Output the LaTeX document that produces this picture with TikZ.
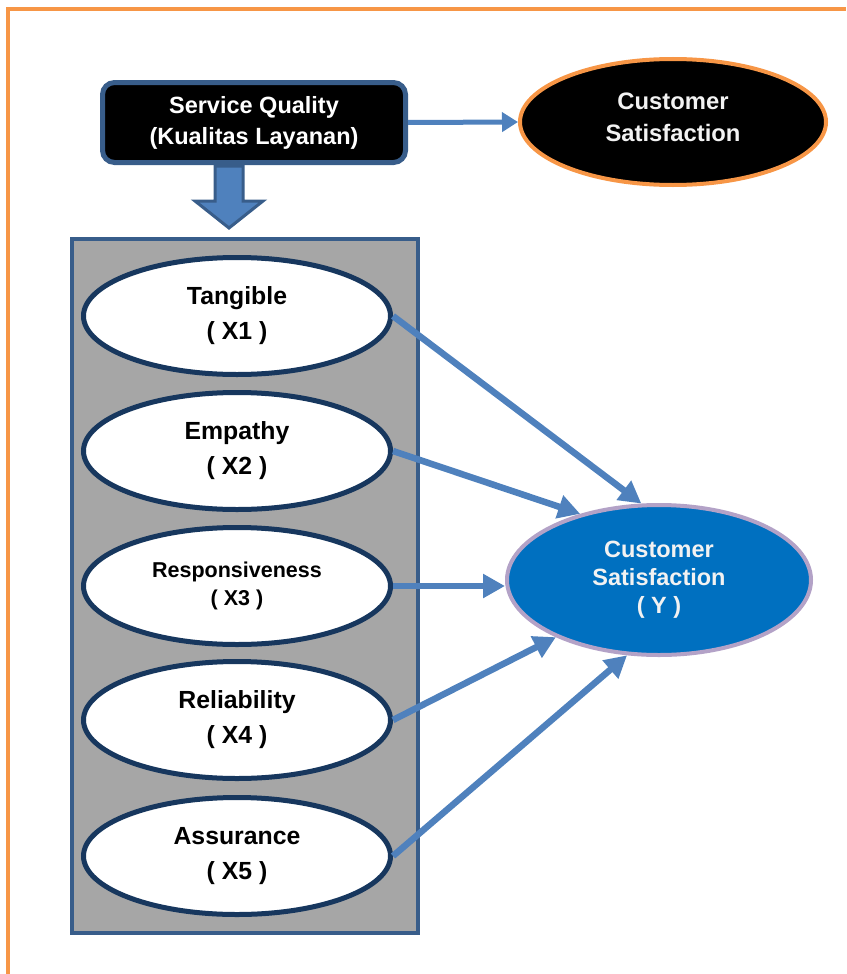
\documentclass[tikz,border=0pt]{standalone}
\usepackage{fontspec}
\setmainfont{Liberation Sans}
\usetikzlibrary{arrows.meta,shapes.geometric}
\definecolor{framec}{HTML}{F79646}
\definecolor{boxborder}{HTML}{385D8A}
\definecolor{navy}{HTML}{17375E}
\definecolor{arrowblue}{HTML}{4F81BD}
\definecolor{panelgrey}{HTML}{A6A6A6}
\definecolor{yfill}{HTML}{0070C0}
\definecolor{yborder}{HTML}{B3A2C7}
\definecolor{ytext}{HTML}{F2F2F2}
\tikzset{
  dimnode/.style={ellipse, draw=navy, line width=5pt, fill=white, inner sep=0pt,
    minimum width=307pt, minimum height=117pt, align=center,
    font=\bfseries\fontsize{24.8}{35}\selectfont},
  linkarrow/.style={draw=arrowblue, line width=6.5pt,
    -{Triangle[length=22pt,width=23pt]}},
}
\begin{document}
\begin{tikzpicture}[x=1pt,y=-1pt]
\useasboundingbox (0,0) rectangle (846,974);
% frame (open at right and bottom)
\draw[framec, line width=4pt] (8,974) -- (8,9) -- (846,9);
% grey panel
\node[draw=boxborder, fill=panelgrey, line width=4pt, inner sep=0pt,
  minimum width=346pt, minimum height=694pt] (panel) at (245,586) {};
% service quality box
\node[draw=boxborder, fill=black, line width=5pt, rounded corners=12pt,
  minimum width=303pt, minimum height=80pt, inner sep=0pt, align=center,
  text=white, font=\bfseries\fontsize{23.5}{31}\selectfont] (sq) at (254,122.5)
  {Service Quality\\(Kualitas Layanan)};
% top customer satisfaction
\node[ellipse, draw=framec, fill=black, line width=4pt, inner sep=0pt,
  minimum width=306pt, minimum height=126pt, align=center, text=ytext,
  text depth=9pt,
  font=\bfseries\fontsize{23.8}{32}\selectfont] (cs) at (673,122)
  {Customer\\Satisfaction};
\draw[draw=arrowblue, line width=5pt, -{Triangle[length=16pt,width=19pt]}]
  (sq.east) -- (cs.west);
% block arrow down
\draw[fill=arrowblue, draw=boxborder, line width=3pt, line join=miter]
  (215,166) -- (243,166) -- (243,201) -- (263,201) -- (229,228)
  -- (195,201) -- (215,201) -- cycle;
% dimension ellipses
\node[dimnode] (x1) at (237,316) {Tangible\\( X1 )};
\node[dimnode] (x2) at (237,451) {Empathy\\( X2 )};
\node[dimnode, font=\bfseries\fontsize{21.5}{28}\selectfont] (x3) at (237,586)
  {Responsiveness\\( X3 )};
\node[dimnode] (x4) at (237,720) {Reliability\\( X4 )};
\node[dimnode] (x5) at (237,856) {Assurance\\( X5 )};
% Y
\node[ellipse, draw=yborder, fill=yfill, line width=4pt, inner sep=0pt,
  minimum width=304pt, minimum height=150pt, align=center, text=ytext,
  font=\bfseries\fontsize{23.5}{28}\selectfont] (y) at (659,580)
  {Customer\\Satisfaction\\( Y )};
% links
\draw[linkarrow] (x1.east) -- (y.103);
\draw[linkarrow] (x2.east) -- (y.140);
\draw[linkarrow] (x3.east) -- (x3.east -| y.west);
\draw[linkarrow] (x4.east) -- (y.209);
\draw[linkarrow] (x5.east) -- (y.247);
\end{tikzpicture}
\end{document}
